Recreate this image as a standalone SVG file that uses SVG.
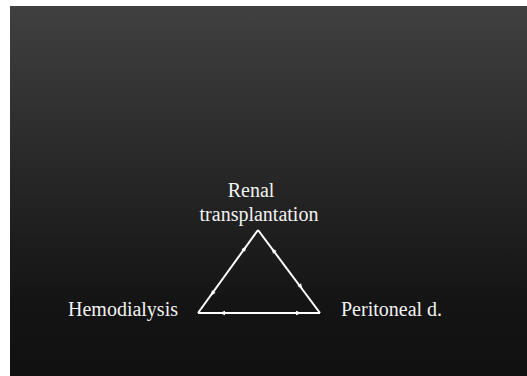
<svg xmlns="http://www.w3.org/2000/svg" xmlns:xlink="http://www.w3.org/1999/xlink" width="527" height="376" viewBox="0 0 527 376">
<defs>
<linearGradient id="bg" x1="0" y1="0" x2="0" y2="1">
<stop offset="0" stop-color="#404040"/>
<stop offset="0.8" stop-color="#141414"/>
<stop offset="1" stop-color="#111111"/>
</linearGradient>
<path id="ah" d="M2.5,0 L-3,-2.2 L-3,2.2 Z" fill="#ffffff"/>
</defs>
<style>
.lbl{font-family:"Liberation Serif","Times New Roman",serif;font-size:20px;fill:#f2f2f2;}
.side{stroke:#ffffff;stroke-width:2;fill:none;}
</style>
<rect x="0" y="0" width="527" height="376" fill="#ffffff"/>
<rect x="10" y="6" width="517" height="370" fill="url(#bg)"/>
<g id="connectors">
<line class="side" x1="198" y1="313" x2="258" y2="230"/>
<line class="side" x1="258" y1="230" x2="320" y2="313"/>
<line class="side" x1="198" y1="313" x2="320" y2="313"/>
<use xlink:href="#ah" transform="translate(245,248) rotate(-54.1)"/>
<use xlink:href="#ah" transform="translate(212,294) rotate(125.9)"/>
<use xlink:href="#ah" transform="translate(273,250) rotate(-126.7)"/>
<use xlink:href="#ah" transform="translate(301,287) rotate(53.3)"/>
<use xlink:href="#ah" transform="translate(222,313) rotate(180)"/>
<use xlink:href="#ah" transform="translate(299,313)"/>
</g>
<g id="renal">
<text class="lbl" x="251" y="197" text-anchor="middle">Renal</text>
<text class="lbl" x="259" y="221" text-anchor="middle">transplantation</text>
</g>
<g id="hemodialysis">
<text class="lbl" x="68" y="316">Hemodialysis</text>
</g>
<g id="peritoneal">
<text class="lbl" x="341" y="316">Peritoneal d.</text>
</g>
</svg>
